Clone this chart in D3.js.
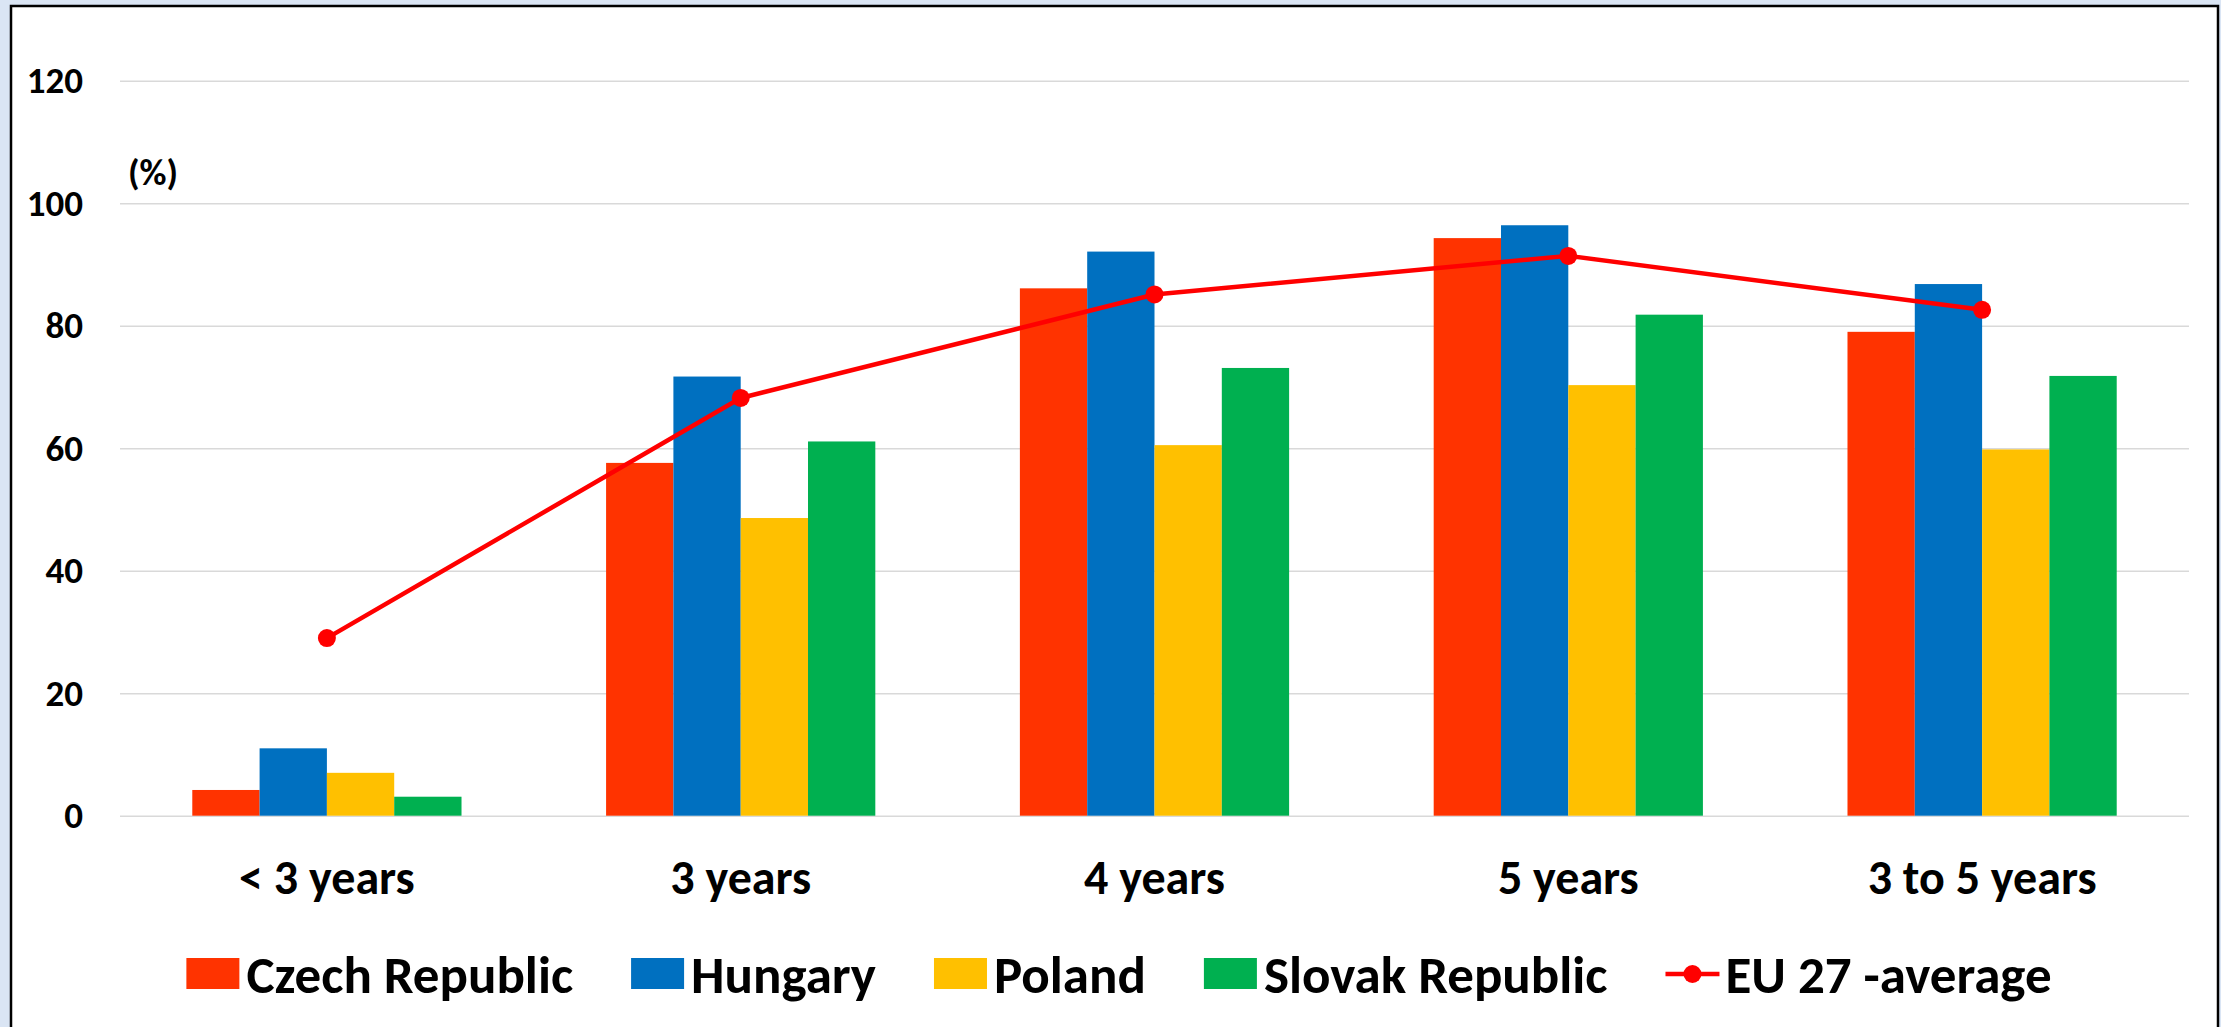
<!DOCTYPE html>
<html>
<head>
<meta charset="utf-8">
<script src="https://cdn.jsdelivr.net/npm/d3@7"></script>
<style>
  html, body { margin: 0; padding: 0; background: #dae5f4; }
  svg { display: block; }
  text { font-family: Carlito, 'Liberation Sans Narrow', Lato, 'Open Sans', sans-serif; font-weight: bold; fill: #000; }
</style>
</head>
<body>
<script>
const categories = ["< 3 years", "3 years", "4 years", "5 years", "3 to 5 years"];
const seriesNames = ["Czech Republic", "Hungary", "Poland", "Slovak Republic"];
const czech   = [4.2, 57.6, 86.1, 94.3, 79.0];
const hungary = [11.0, 71.7, 92.1, 96.4, 86.8];
const poland  = [7.0, 48.6, 60.5, 70.3, 59.8];
const slovak  = [3.1, 61.1, 73.1, 81.8, 71.8];
const euName = "EU 27 -average";
const euAverage = [29.0, 68.2, 85.1, 91.4, 82.6];
const yTicks = [0, 20, 40, 60, 80, 100, 120];
const unitLabel = "(%)";
const colors = ["#ff3300", "#0070c0", "#ffc000", "#00b050"];
const lineColor = "#ff0000";

const W = 2221, H = 1027;
const svg = d3.select("body").append("svg").attr("width", W).attr("height", H);

// frame
svg.append("rect").attr("x", 11).attr("y", 6).attr("width", 2207).attr("height", H + 20)
  .attr("fill", "#ffffff").attr("stroke", "#000").attr("stroke-width", 2.5);

const pLeft = 120, pRight = 2189, pTop = 80.7, pBottom = 815.7;

const x = d3.scaleBand().domain(categories).range([pLeft, pRight]).paddingInner(0).paddingOuter(0);
const x1 = d3.scaleBand().domain(seriesNames).range([0, x.bandwidth()]).paddingInner(0).paddingOuter(1.074);
const y = d3.scaleLinear().domain([0, 120]).range([pBottom, pTop]);

const fontFam = "Carlito, 'Liberation Sans Narrow', Lato, 'Open Sans', sans-serif";

// y axis with gridlines
const yAxis = d3.axisLeft(y).tickValues(yTicks).tickSize(-(pRight - pLeft)).tickPadding(37).tickFormat(d3.format("d"));
const gy = svg.append("g").attr("transform", `translate(${pLeft},0)`).call(yAxis);
gy.select(".domain").remove();
gy.selectAll(".tick line").attr("stroke", "#d9d9d9").attr("stroke-width", 1.6);
gy.selectAll(".tick text").attr("font-size", 37).attr("fill", "#000")
  .style("font-family", fontFam).style("font-weight", "bold");

svg.append("text").attr("x", 128).attr("y", 172).attr("dy", "0.35em").attr("font-size", 37).text(unitLabel);

// bars
const seriesData = [czech, hungary, poland, slovak];
seriesNames.forEach((name, si) => {
  svg.append("g").selectAll("rect").data(seriesData[si]).join("rect")
    .attr("x", (d, i) => x(categories[i]) + x1(name))
    .attr("width", x1.bandwidth())
    .attr("y", d => y(d))
    .attr("height", d => y(0) - y(d))
    .attr("fill", colors[si]);
});

// x axis labels
const xAxis = d3.axisBottom(x).tickSize(0).tickPadding(0);
const gx = svg.append("g").attr("transform", `translate(0,${pBottom})`).call(xAxis);
gx.select(".domain").remove();
gx.selectAll(".tick text").attr("y", 62).attr("dy", "0.35em").attr("font-size", 48).attr("fill", "#000")
  .style("font-family", fontFam).style("font-weight", "bold");

// EU line
const cx = (d, i) => x(categories[i]) + x.bandwidth() / 2;
const line = d3.line().x((d, i) => cx(d, i)).y(d => y(d));
svg.append("path").datum(euAverage).attr("d", line).attr("fill", "none")
  .attr("stroke", lineColor).attr("stroke-width", 4.5).attr("stroke-linejoin", "round");
svg.append("g").selectAll("circle").data(euAverage).join("circle")
  .attr("cx", (d, i) => cx(d, i)).attr("cy", d => y(d)).attr("r", 9).attr("fill", lineColor);

// legend
const legendY = 974;
const leg = svg.append("g");
const items = seriesNames.map((n, i) => ({ name: n, color: colors[i], type: "rect" }))
  .concat([{ name: euName, color: lineColor, type: "line" }]);
let cursor = 0;
items.forEach(it => {
  const g = leg.append("g").attr("transform", `translate(${cursor},0)`);
  if (it.type === "rect") {
    g.append("rect").attr("x", 0).attr("y", legendY - 16).attr("width", 53).attr("height", 31).attr("fill", it.color);
  } else {
    g.append("line").attr("x1", 0).attr("x2", 54).attr("y1", legendY).attr("y2", legendY)
      .attr("stroke", it.color).attr("stroke-width", 4.5);
    g.append("circle").attr("cx", 27).attr("cy", legendY).attr("r", 9).attr("fill", it.color);
  }
  const t = g.append("text").attr("x", 60).attr("y", legendY).attr("dy", "0.35em").attr("font-size", 53).text(it.name);
  const w = t.node().getComputedTextLength();
  cursor += 60 + w + 58;
});
const totalW = cursor - 58;
leg.attr("transform", `translate(${(181 + 2057) / 2 - totalW / 2},0)`);
</script>
</body>
</html>
